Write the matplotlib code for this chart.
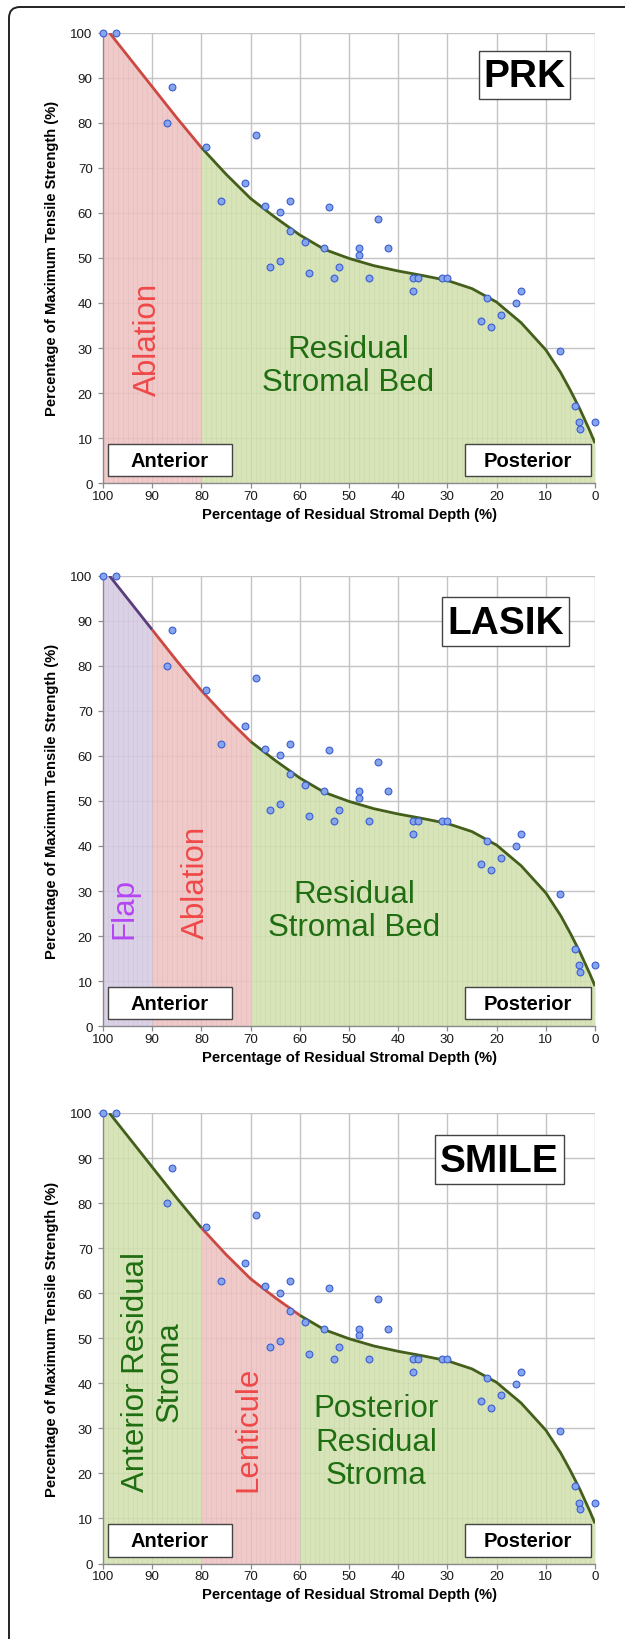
import matplotlib
matplotlib.use('Agg')
import matplotlib.pyplot as plt
import numpy as np
from matplotlib.patches import Rectangle, FancyBboxPatch

plt.rcParams['font.family'] = ['Liberation Sans', 'DejaVu Sans']

# measured points (residual depth %, tensile strength %)
depth = [100, 97.3, 86.0, 87.0, 79.1, 69.0, 71.1, 76.1, 67.1, 64.1, 62.0, 62.0,
         59.0, 55.0, 54.1, 66.1, 64.1, 58.1, 53.0, 52.0, 48.0, 48.0, 46.0, 44.1,
         42.0, 36.9, 35.9, 36.9, 31.1, 30.0, 22.0, 23.1, 21.1, 19.1, 16.1, 15.1,
         7.1, 4.1, 3.3, 3.0, 0.1]
strength = [100, 100, 87.9, 80.0, 74.6, 77.4, 66.6, 62.6, 61.5, 60.1, 62.6, 56.0,
            53.5, 52.1, 61.2, 48.1, 49.3, 46.6, 45.5, 48.0, 52.1, 50.7, 45.5, 58.7,
            52.1, 45.5, 45.5, 42.6, 45.5, 45.5, 41.2, 36.0, 34.6, 37.4, 39.9, 42.6,
            29.4, 17.2, 13.5, 12.1, 13.5]

# fitted curve
fit_depth = [98.7, 95, 90, 85, 80, 75, 70, 65, 60, 55, 50, 45, 40, 35, 30, 25,
             20, 15, 10, 7, 5, 3, 1, 0]
fit_strength = [100, 94.9, 88.0, 81.1, 74.5, 68.6, 63.2, 59.0, 55.1, 51.9, 49.9,
                48.3, 47.1, 46.1, 45.0, 43.2, 40.2, 35.6, 29.6, 24.6, 20.6, 16.3,
                11.5, 8.9]

ticks = list(range(0, 101, 10))

fills = {'red': '#efc3c3', 'green': '#d3e2b1', 'purple': '#d8cce4'}
lines = {'red': '#cc4840', 'green': '#445e1c', 'purple': '#5a3d7a'}
txt_green = '#1f6e12'
txt_red = '#f04848'
txt_purple = '#b445f5'

panels = [
    ('PRK', [(80, 100, 'red'), (0, 80, 'green')], (5.1, 23.6, 85.2, 96.0)),
    ('LASIK', [(90, 100, 'purple'), (70, 90, 'red'), (0, 70, 'green')], (5.3, 31.1, 84.3, 95.3)),
    ('SMILE', [(80, 100, 'green'), (60, 80, 'red'), (0, 60, 'green')], (6.3, 32.5, 84.2, 95.1)),
]

W, H = 625, 1640
fig = plt.figure(figsize=(W / 100, H / 100), dpi=100)

# outer rounded frame
bg = fig.add_axes([0, 0, 1, 1])
bg.set_xlim(0, W)
bg.set_ylim(H, 0)
bg.axis('off')
bg.add_patch(FancyBboxPatch((9, 8), 640, 1700, boxstyle='round,pad=0,rounding_size=11',
                            fc='white', ec='#222222', lw=1.4))

tops = [33.7, 576.7, 1114]
fx = np.array([100] + fit_depth)
fy = np.array([100] + fit_strength)
cx = np.array(fit_depth)
cy = np.array(fit_strength)

for (name, zones, box), top in zip(panels, tops):
    bottom = top + 450.5
    ax = fig.add_axes([103 / W, 1 - bottom / H, 492 / W, 450.5 / H])
    ax.set_xlim(100, 0)
    ax.set_ylim(0, 100)
    ax.set_xticks(ticks)
    ax.set_yticks(ticks)
    ax.grid(True, color='#c4c4c4', lw=1.0, zorder=0)
    ax.set_axisbelow(True)
    for s in ['top', 'right']:
        ax.spines[s].set_visible(False)
    for s in ['left', 'bottom']:
        ax.spines[s].set_color('#8a8a8a')
        ax.spines[s].set_linewidth(1.0)
    ax.tick_params(axis='both', length=3.5, width=0.9, color='#8a8a8a',
                   labelsize=9.6, labelcolor='#1a1a1a')
    ax.tick_params(axis='x', pad=1.5)
    ax.tick_params(axis='y', pad=4)

    for lo, hi, c in zones:
        m = (fx >= lo) & (fx <= hi)
        ax.fill_between(fx[m], 0, fy[m], color=fills[c], alpha=0.9, lw=0, zorder=1)
        # faint vertical stripes inside the area
        for v in range(int(lo), int(hi)):
            h = np.interp(v, fx[::-1], fy[::-1])
            ax.plot([v, v], [0, h], color='#000000', alpha=0.035, lw=0.6, zorder=1.5)
        m2 = (cx >= lo) & (cx <= hi)
        ax.plot(cx[m2], cy[m2], color=lines[c], lw=2.0, solid_capstyle='butt', zorder=3)

    ax.scatter(depth, strength, s=24, facecolor='#87a5ec', edgecolor='#3a5ed0',
               linewidth=0.8, zorder=5, clip_on=False)

    # method label box
    x0, x1, y0, y1 = box
    ax.add_patch(Rectangle((x1, y0), x0 - x1, y1 - y0, fc='white', ec='#444444',
                           lw=1.0, zorder=6))
    ax.text((x0 + x1) / 2, (y0 + y1) / 2 - 0.3, name, ha='center', va='center',
            fontsize=28, fontweight='bold', zorder=7)

    for bx0, bx1, lab in [(99, 73.8, 'Anterior'), (26.4, 0.8, 'Posterior')]:
        ax.add_patch(Rectangle((bx1, 1.5), bx0 - bx1, 7.2, fc='white', ec='#444444',
                               lw=1.0, zorder=6))
        ax.text((bx0 + bx1) / 2, 5.0, lab, ha='center', va='center',
                fontsize=14.5, fontweight='bold', zorder=7)

    if name == 'PRK':
        ax.text(90.9, 19.5, 'Ablation', rotation=90, rotation_mode='anchor',
                ha='left', va='center', color=txt_red, fontsize=22.5, zorder=4)
        ax.text(50.2, 26.1, 'Residual\nStromal Bed', ha='center', va='center',
                color=txt_green, fontsize=22.5, linespacing=1.15, zorder=4)
    elif name == 'LASIK':
        ax.text(95.7, 19.5, 'Flap', rotation=90, rotation_mode='anchor',
                ha='left', va='center', color=txt_purple, fontsize=22.5, zorder=4)
        ax.text(81.1, 19.5, 'Ablation', rotation=90, rotation_mode='anchor',
                ha='left', va='center', color=txt_red, fontsize=22.5, zorder=4)
        ax.text(49.0, 25.7, 'Residual\nStromal Bed', ha='center', va='center',
                color=txt_green, fontsize=22.5, linespacing=1.15, zorder=4)
    else:
        ax.text(89.8, 42.8, 'Anterior Residual\nStroma', rotation=90,
                ha='center', va='center', multialignment='center',
                color=txt_green, fontsize=22.5, linespacing=1.15, zorder=4)
        ax.text(70.5, 16.1, 'Lenticule', rotation=90, rotation_mode='anchor',
                ha='left', va='center', color=txt_red, fontsize=22.5, zorder=4)
        ax.text(44.5, 27.0, 'Posterior\nResidual\nStroma', ha='center', va='center',
                color=txt_green, fontsize=22.5, linespacing=1.15, zorder=4)

    fig.text(52 / W, 1 - (top + 225) / H, 'Percentage of Maximum Tensile Strength (%)',
             rotation=90, ha='center', va='center', fontsize=10.6, fontweight='bold')
    fig.text(349 / W, 1 - (bottom + 30.5) / H, 'Percentage of Residual Stromal Depth (%)',
             ha='center', va='center', fontsize=10.6, fontweight='bold')

fig.savefig('out.png', dpi=100)
